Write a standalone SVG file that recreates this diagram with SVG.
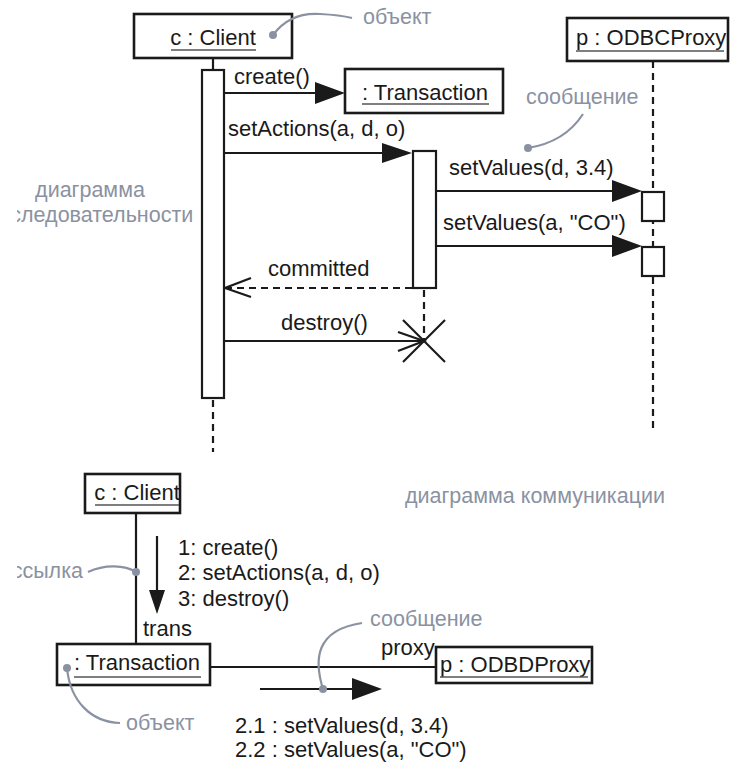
<svg xmlns="http://www.w3.org/2000/svg" width="731" height="762" viewBox="0 0 731 762">
<style>
text{font-family:"Liberation Sans",Arial,sans-serif;font-size:22px;fill:#1a1a1a}
.g{fill:#8a92a2;font-size:21.5px}
.box{fill:#fff;stroke:#1a1a1a;stroke-width:2.6}
.act{fill:#fff;stroke:#1a1a1a;stroke-width:2.2}
.ln{stroke:#1a1a1a;stroke-width:2.2;fill:none}
.dash{stroke:#1a1a1a;stroke-width:2.2;fill:none;stroke-dasharray:7 5}
.ul{stroke:#555;stroke-width:1.3}
.co{stroke:#8a92a2;stroke-width:2.2;fill:none}
.dot{fill:#8a92a2}
.head{fill:#1a1a1a}
</style>
<defs>
<clipPath id="crop"><rect x="17" y="0" width="714" height="762"/></clipPath>
</defs>

<g id="connectors">
<line class="ln" x1="213" y1="58" x2="213" y2="70"/>
<line class="dash" x1="213" y1="400" x2="213" y2="452"/>
<line class="dash" x1="653" y1="61" x2="653" y2="432"/>
<line class="dash" x1="424" y1="290" x2="424" y2="341"/>
<line class="ln" x1="224" y1="93" x2="318" y2="93"/>
<polygon class="head" points="345,93 315,82 315,104"/>
<line class="ln" x1="224" y1="153" x2="384" y2="153"/>
<polygon class="head" points="412,153 382,143 382,163"/>
<line class="ln" x1="436" y1="191" x2="614" y2="191"/>
<polygon class="head" points="642,191 612,180 612,202"/>
<line class="ln" x1="436" y1="246" x2="614" y2="246"/>
<polygon class="head" points="642,246 612,235 612,257"/>
<line class="dash" x1="412" y1="288" x2="226" y2="288"/>
<polyline class="ln" points="251,278 225,288 251,297"/>
<line class="ln" x1="224" y1="341" x2="424" y2="341"/>
<polyline class="ln" points="398,332 424,341 398,351"/>
<line class="ln" x1="403" y1="320" x2="445" y2="362"/>
<line class="ln" x1="445" y1="320" x2="403" y2="362"/>
<line class="ln" x1="136" y1="513" x2="136" y2="644"/>
<line class="ln" x1="210" y1="667" x2="436" y2="667"/>
<line class="ln" x1="157" y1="536" x2="157" y2="592"/>
<polygon class="head" points="157,614 149,590 165,590"/>
<line class="ln" x1="260" y1="689" x2="354" y2="689"/>
<polygon class="head" points="382,689 352,678 352,700"/>
</g>

<g id="client-seq">
<rect class="box" x="134" y="14" width="158" height="44"/>
<text x="213" y="45" text-anchor="middle">c : Client</text>
<line class="ul" x1="171" y1="50" x2="256" y2="50"/>
<rect class="act" x="202" y="70" width="22" height="328"/>
</g>

<g id="transaction-seq">
<rect class="box" x="345" y="69" width="158" height="44"/>
<text x="362" y="100">: Transaction</text>
<line class="ul" x1="362" y1="104" x2="489" y2="104"/>
<rect class="act" x="413" y="151" width="23" height="137"/>
</g>

<g id="proxy-seq">
<rect class="box" x="567" y="18" width="161" height="43"/>
<text x="576" y="45">p : ODBCProxy</text>
<line class="ul" x1="576" y1="51" x2="724" y2="51"/>
<rect class="act" x="642" y="192" width="22" height="29"/>
<rect class="act" x="642" y="247" width="22" height="29"/>
</g>

<g id="seq-labels">
<text x="234" y="84">create()</text>
<text x="228" y="136">setActions(a, d, o)</text>
<text x="449" y="175">setValues(d, 3.4)</text>
<text x="443" y="230">setValues(a, "CO")</text>
<text x="268" y="276">committed</text>
<text x="281" y="330">destroy()</text>
</g>

<g id="seq-notes">
<path class="co" d="M273,35 Q290,12 320,14 Q340,15 352,18"/>
<circle class="dot" cx="273" cy="35" r="4"/>
<text class="g" x="363" y="24">объект</text>
<path class="co" d="M583,114 Q565,142 528,148"/>
<circle class="dot" cx="528" cy="148" r="4"/>
<text class="g" x="526" y="104">сообщение</text>
<g clip-path="url(#crop)">
<text class="g" x="90" y="197" text-anchor="middle">диаграмма</text>
<text class="g" x="90" y="222" text-anchor="middle">последовательности</text>
</g>
</g>

<g id="client-comm">
<rect class="box" x="85" y="474" width="95" height="39"/>
<text x="137" y="500" text-anchor="middle">c : Client</text>
<line class="ul" x1="95" y1="505" x2="179" y2="505"/>
</g>

<g id="transaction-comm">
<rect class="box" x="57" y="644" width="153" height="41"/>
<text x="74" y="670">: Transaction</text>
<line class="ul" x1="74" y1="677" x2="201" y2="677"/>
</g>

<g id="proxy-comm">
<rect class="box" x="436" y="647" width="156" height="36"/>
<text x="440" y="672">p : ODBDProxy</text>
<line class="ul" x1="440" y1="677" x2="588" y2="677"/>
</g>

<g id="comm-labels">
<text x="178" y="555">1: create()</text>
<text x="178" y="580">2: setActions(a, d, o)</text>
<text x="178" y="606">3: destroy()</text>
<text x="143" y="636">trans</text>
<text x="381" y="655">proxy</text>
<text x="235" y="733">2.1 : setValues(d, 3.4)</text>
<text x="235" y="757">2.2 : setValues(a, "CO")</text>
</g>

<g id="comm-notes">
<text class="g" x="405" y="503">диаграмма коммуникации</text>
<path class="co" d="M136,572 C125,565 105,564 88,572"/>
<circle class="dot" cx="136" cy="572" r="4"/>
<g clip-path="url(#crop)">
<text class="g" x="83" y="578" text-anchor="end">ссылка</text>
</g>
<path class="co" d="M67,668 C70,700 90,722 120,723"/>
<circle class="dot" cx="67" cy="668" r="4"/>
<text class="g" x="126" y="730">объект</text>
<path class="co" d="M323,689 C314,660 315,630 362,623"/>
<circle class="dot" cx="323" cy="689" r="4"/>
<text class="g" x="370" y="626">сообщение</text>
</g>
</svg>
